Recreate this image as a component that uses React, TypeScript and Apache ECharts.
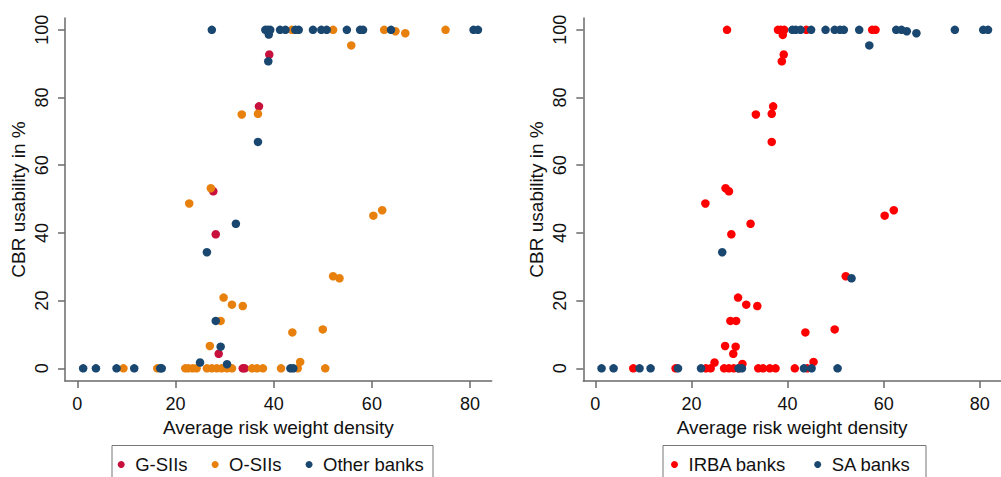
import React, { useEffect, useRef } from "react";
import * as echarts from "echarts";

// Left panel: bank type
const gsiiData: number[][] = [
  [39.1, 92.7], [37.0, 77.4], [27.7, 52.3], [28.2, 39.6], [28.8, 4.3], [33.7, 0], [34.1, 0],
];
const osiiData: number[][] = [
  [43.7, 100], [52.1, 100], [62.5, 100], [64.8, 99.6], [66.8, 99.0], [75.0, 100],
  [55.8, 95.4], [36.8, 75.2], [33.5, 75.0], [27.2, 53.2], [22.8, 48.7], [60.3, 45.1], [62.1, 46.7],
  [52.1, 27.2], [53.4, 26.6], [29.8, 20.9], [31.5, 18.8], [33.7, 18.4], [29.2, 14.0], [43.8, 10.6],
  [50.0, 11.5], [27.0, 6.6], [45.4, 1.9],
  [9.4, 0], [16.3, 0], [22.0, 0], [22.6, 0], [23.5, 0], [24.3, 0], [26.4, 0], [27.4, 0], [28.4, 0],
  [29.4, 0], [30.5, 0], [31.5, 0], [35.6, 0], [36.6, 0], [37.8, 0], [41.5, 0], [44.9, 0], [50.5, 0],
];
const otherData: number[][] = [
  [27.4, 100], [38.3, 100], [38.8, 100], [39.3, 100], [41.3, 100], [42.4, 100], [44.4, 100], [45.1, 100],
  [48.0, 100], [49.7, 100], [50.8, 100], [54.9, 100], [57.6, 100], [58.2, 100], [63.9, 100], [80.7, 100],
  [81.6, 100], [39.0, 98.6],
  [38.9, 90.7], [36.8, 66.9], [32.3, 42.7], [26.4, 34.3], [28.2, 14.0], [29.2, 6.4], [25.0, 1.7], [30.5, 1.2],
  [1.2, 0], [3.8, 0], [8.0, 0], [11.6, 0], [16.9, 0], [17.2, 0], [43.4, 0], [44.0, 0],
];

// Right panel: approach
const irbaData: number[][] = [
  [27.4, 100], [38.0, 100], [38.6, 100], [39.3, 100], [43.9, 100], [57.6, 100], [58.3, 100], [39.0, 98.5],
  [39.2, 92.7], [38.8, 90.7], [37.0, 77.4], [36.7, 75.2], [33.4, 75.0], [36.7, 66.9], [27.1, 53.2],
  [27.8, 52.3], [22.9, 48.7], [60.2, 45.1], [62.1, 46.7], [32.3, 42.7], [28.3, 39.6], [52.1, 27.2],
  [29.7, 20.9], [31.4, 18.8], [33.7, 18.4], [28.1, 14.0], [29.3, 14.0], [43.7, 10.6], [49.8, 11.5],
  [27.0, 6.6], [29.2, 6.4], [28.7, 4.3], [24.8, 1.7], [30.6, 1.3], [45.4, 1.9],
  [7.9, 0], [16.7, 0], [23.0, 0], [24.0, 0], [26.8, 0], [27.8, 0], [28.8, 0], [29.8, 0], [33.9, 0],
  [34.9, 0], [36.3, 0], [37.5, 0], [41.5, 0], [44.1, 0],
];
const saData: number[][] = [
  [41.0, 100], [41.7, 100], [42.7, 100], [44.9, 100], [47.9, 100], [49.8, 100], [50.9, 100], [51.7, 100],
  [54.9, 100], [62.6, 100], [63.7, 100], [74.8, 100], [80.7, 100], [81.7, 100], [64.8, 99.6], [66.8, 99.0],
  [57.0, 95.4], [26.4, 34.3], [53.3, 26.6],
  [1.3, 0], [3.8, 0], [9.2, 0], [11.5, 0], [17.2, 0], [22.0, 0], [29.8, 0], [30.5, 0], [43.4, 0],
  [45.0, 0], [50.4, 0],
];

const xTicks = [0, 20, 40, 60, 80];
const yTicks = [0, 20, 40, 60, 80, 100];
const xTitle = "Average risk weight density";
const yTitle = "CBR usability in %";

const FONT = "'Liberation Sans', Arial, sans-serif";
const AXIS_COLOR = "#6a6a6a";

export default function App() {
  const ref = useRef<HTMLDivElement>(null);
  useEffect(() => {
    if (!ref.current) return;
    const chart = echarts.init(ref.current, undefined, { renderer: "svg" });

    const xAxis = (gridIndex: number) => ({
      type: "value",
      gridIndex,
      min: -2.5,
      max: 84.4,
      name: xTitle,
      nameLocation: "middle",
      nameGap: 34,
      nameTextStyle: { fontFamily: FONT, fontSize: 19, color: "#111" },
      axisLine: { show: true, onZero: false, lineStyle: { color: AXIS_COLOR, width: 1.5 } },
      axisTick: { show: true, length: 7, customValues: xTicks, lineStyle: { color: AXIS_COLOR, width: 1.5 } },
      axisLabel: { customValues: xTicks, fontFamily: FONT, fontSize: 18, color: "#111", margin: 14 },
      splitLine: { show: false },
    });
    const yAxis = (gridIndex: number) => ({
      type: "value",
      gridIndex,
      min: -3.75,
      max: 103.5,
      name: yTitle,
      nameLocation: "middle",
      nameGap: 37,
      nameTextStyle: { fontFamily: FONT, fontSize: 19, color: "#111" },
      axisLine: { show: true, onZero: false, lineStyle: { color: AXIS_COLOR, width: 1.5 } },
      axisTick: { show: true, length: 7, customValues: yTicks, lineStyle: { color: AXIS_COLOR, width: 1.5 } },
      axisLabel: { customValues: yTicks, rotate: 90, fontFamily: FONT, fontSize: 18, color: "#111", margin: 14 },
      splitLine: { show: false },
    });
    const scatter = (name: string, data: number[][], color: string, idx: number) => ({
      type: "scatter",
      name,
      data,
      xAxisIndex: idx,
      yAxisIndex: idx,
      symbol: "circle",
      symbolSize: 8.5,
      itemStyle: { color, opacity: 1 },
      emphasis: { disabled: true },
    });
    const legendCommon = {
      orient: "horizontal",
      icon: "circle",
      itemWidth: 18,
      itemHeight: 7,
      top: 450,
      textStyle: { fontFamily: FONT, fontSize: 18.5, color: "#111" },
      selectedMode: false,
    };

    chart.setOption({
      animation: false,
      backgroundColor: "#fff",
      grid: [
        { left: 65, top: 18, width: 426.7, height: 363 },
        { left: 583.3, top: 18, width: 426.7, height: 363 },
      ],
      xAxis: [xAxis(0), xAxis(1)],
      yAxis: [yAxis(0), yAxis(1)],
      legend: [
        { ...legendCommon, itemGap: 24, left: 112.7, data: ["G-SIIs", "O-SIIs", "Other banks"] },
        { ...legendCommon, itemGap: 28, left: 666, data: ["IRBA banks", "SA banks"] },
      ],
      graphic: [
        { type: "rect", shape: { x: 112, y: 445.5, width: 321, height: 45 }, style: { fill: "none", stroke: "#777", lineWidth: 1 } },
        { type: "rect", shape: { x: 663, y: 445.5, width: 263, height: 45 }, style: { fill: "none", stroke: "#777", lineWidth: 1 } },
      ],
      series: [
        scatter("G-SIIs", gsiiData, "#c8103c", 0),
        scatter("O-SIIs", osiiData, "#e8800e", 0),
        scatter("Other banks", otherData, "#1a476f", 0),
        scatter("IRBA banks", irbaData, "#ff0000", 1),
        scatter("SA banks", saData, "#1a476f", 1),
      ],
    });
    return () => chart.dispose();
  }, []);
  return (
    <div
      ref={ref}
      style={{ position: "fixed", left: 0, top: 0, width: 1001, height: 477, background: "#fff" }}
    />
  );
}
